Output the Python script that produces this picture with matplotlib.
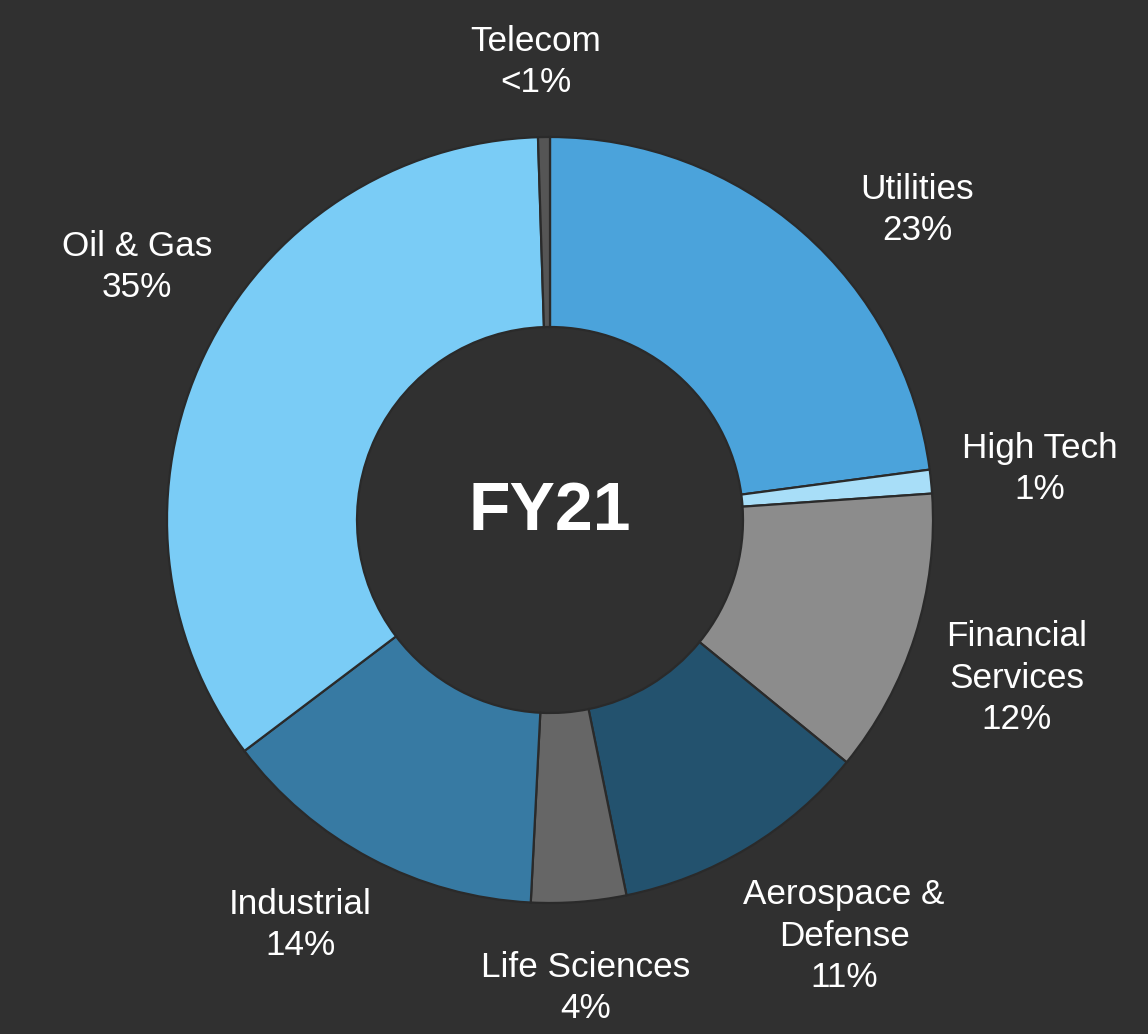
import matplotlib
matplotlib.use("Agg")
import matplotlib.pyplot as plt

plt.rcParams['font.family'] = ['Liberation Sans', 'DejaVu Sans']

categories = ["Utilities", "High Tech", "Financial\nServices", "Aerospace &\nDefense",
              "Life Sciences", "Industrial", "Oil & Gas", "Telecom"]
values = [22.9, 1.0, 12.0, 10.9, 4.0, 13.9, 34.8, 0.5]
pct_labels = ["23%", "1%", "12%", "11%", "4%", "14%", "35%", "<1%"]
colors = ["#4BA3DB", "#A8DEF8", "#8C8C8C", "#23526E", "#666666", "#377AA3", "#7ACCF6", "#555555"]
center_label = "FY21"

W, H = 1148, 1034
BG = "#303030"
fig = plt.figure(figsize=(W / 100, H / 100), dpi=100, facecolor=BG)
ax = fig.add_axes([0, 0, 1, 1])
ax.set_facecolor(BG)

cx, cy = 550, H - 520
R_out, R_in = 383, 193
ax.pie(values, colors=colors, startangle=90, counterclock=False, radius=R_out,
       center=(cx, cy), frame=True,
       wedgeprops=dict(width=R_out - R_in, edgecolor="#2a2a2a", linewidth=1.6))
ax.set_xlim(0, W)
ax.set_ylim(0, H)
ax.set_aspect("equal")
ax.axis("off")

# label layout (pixel centres, top-down y)
label_pos = [(917, 210), (1040, 469), (1017, 678), (844, 936),
             (586, 988), (300, 925), (137, 267), (536, 62)]
for name, pct, (x, y) in zip(categories, pct_labels, label_pos):
    ax.text(x, H - y, f"{name}\n{pct}", ha="center", va="center", color="white",
            fontsize=25.3, linespacing=1.33)

ax.text(cx, H - 512, center_label, ha="center", va="center", color="white",
        fontsize=49, fontweight="bold")

fig.savefig("out.png", dpi=100, facecolor=BG)
